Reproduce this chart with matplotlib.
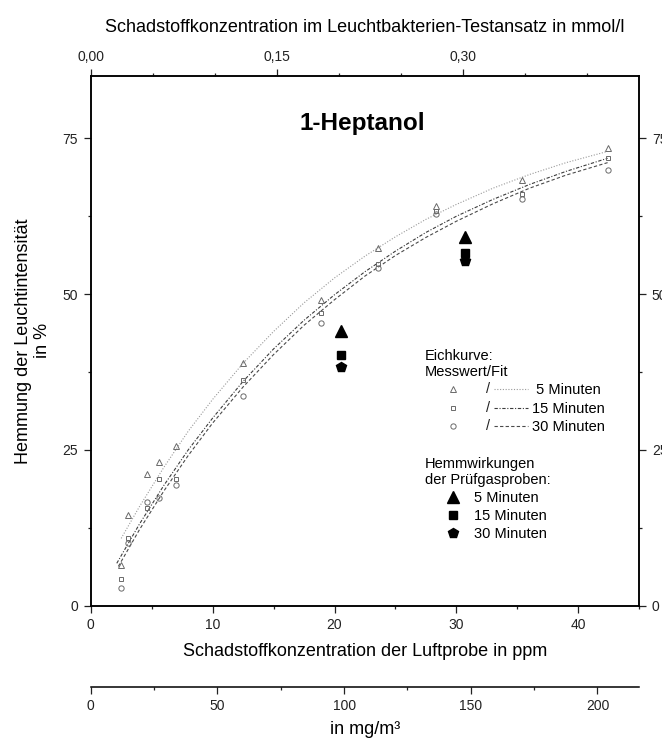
import matplotlib
matplotlib.use('Agg')
import matplotlib.pyplot as plt
from matplotlib.lines import Line2D
from matplotlib.text import Text
from matplotlib.legend_handler import HandlerBase
from matplotlib.ticker import MultipleLocator, FuncFormatter

plt.rcParams['font.family'] = ['Liberation Sans', 'DejaVu Sans']
plt.rcParams['axes.linewidth'] = 1.1

# Eichkurve: Messwerte (ppm, Hemmung in %)
ppm_cal = [2.46, 3.08, 4.64, 5.60, 6.97, 12.52, 18.87, 23.54, 28.30, 35.36, 42.46]
cal_5 = [6.6, 14.6, 21.1, 23.0, 25.6, 38.9, 49.0, 57.4, 64.1, 68.3, 73.4]
cal_15 = [4.3, 10.9, 15.7, 20.3, 20.3, 36.2, 46.9, 54.8, 63.4, 66.1, 71.8]
cal_30 = [2.9, 10.1, 16.6, 17.3, 19.4, 33.6, 45.4, 54.2, 62.8, 65.3, 69.9]

# Fitkurven
ppm_fit_5 = [2.5, 4, 6, 8, 10, 12.5, 15, 17.5, 20, 22.5, 25, 27.5, 30, 33, 36, 39, 42.4]
fit_5 = [10.8, 15.9, 22.2, 28.0, 33.1, 38.9, 44.0, 48.6, 52.6, 56.1, 59.2, 62.0, 64.4, 67.0, 69.2, 71.1, 72.9]
ppm_fit_15 = [2.14, 4, 6, 8, 10, 12.5, 15, 17.5, 20, 22.5, 25, 27.5, 30, 33, 36, 39, 42.4]
fit_15 = [6.8, 13.1, 19.3, 25.0, 30.1, 36.0, 41.2, 45.8, 49.9, 53.6, 56.9, 59.9, 62.5, 65.2, 67.6, 69.7, 71.8]
ppm_fit_30 = [2.27, 4, 6, 8, 10, 12.5, 15, 17.5, 20, 22.5, 25, 27.5, 30, 33, 36, 39, 42.4]
fit_30 = [6.3, 12.2, 18.4, 24.1, 29.3, 35.1, 40.3, 45.0, 49.1, 52.9, 56.2, 59.1, 61.7, 64.5, 67.0, 69.1, 71.1]

# Pruefgasproben
ppm_probe = [20.5, 30.7]
probe_5 = [44.1, 59.2]
probe_15 = [40.2, 56.6]
probe_30 = [38.3, 55.3]

minute_labels = [' 5 Minuten', '15 Minuten', '30 Minuten']

# Umrechnung der Achsen bei 45 ppm
ppm_max = 45
mmol_max = 0.442
mg_max = 216.5


class SlashHandler(HandlerBase):
    # Messwert-Symbol, "/" und Fit-Linie in einem Legendeneintrag
    def create_artists(self, legend, orig_handle, xdescent, ydescent,
                       width, height, fontsize, trans):
        mk, ln = orig_handle
        x0 = -xdescent
        y = height / 2 - ydescent
        dot = Line2D([x0 + 0.1 * width], [y])
        dot.update_from(mk)
        slash = Text(x0 + 0.52 * width, y, '/', ha='center', va='center',
                     fontsize=fontsize, color='#222222')
        seg = Line2D([x0 + 0.59 * width, x0 + width], [y, y])
        seg.update_from(ln)
        for a in (dot, slash, seg):
            a.set_transform(trans)
        return [dot, slash, seg]


fig = plt.figure(figsize=(6.62, 7.38), dpi=100)
ax = fig.add_axes([0.137, 0.1793, 0.8287, 0.7177])

l5, = ax.plot(ppm_fit_5, fit_5, ls=(0, (1, 1.5)), color='#9a9a9a', lw=0.8)
l15, = ax.plot(ppm_fit_15, fit_15, ls=(0, (3, 1.5, 1, 1.5)), color='#3c3c3c', lw=0.8)
l30, = ax.plot(ppm_fit_30, fit_30, ls=(0, (3, 2)), color='#4a4a4a', lw=0.8)

mk_style = dict(ls='none', mfc='none', mec='#6a6a6a', mew=0.7)
m5, = ax.plot(ppm_cal, cal_5, marker='^', ms=4, **mk_style)
m15, = ax.plot(ppm_cal, cal_15, marker='s', ms=3.3, **mk_style)
m30, = ax.plot(ppm_cal, cal_30, marker='o', ms=3.8, **mk_style)

p5, = ax.plot(ppm_probe, probe_5, ls='none', marker='^', ms=8, color='black')
p15, = ax.plot(ppm_probe, probe_15, ls='none', marker='s', ms=6.2, color='black')
p30, = ax.plot(ppm_probe, probe_30, ls='none', marker='p', ms=7.5, color='black')

ax.set_xlim(0, ppm_max)
ax.set_ylim(0, 85)
ax.set_xticks([0, 10, 20, 30, 40])
ax.xaxis.set_minor_locator(MultipleLocator(5))
ax.set_yticks([0, 25, 50, 75])
ax.yaxis.set_minor_locator(MultipleLocator(12.5))
ax.tick_params(which='both', direction='out', right=True, labelright=True,
               labelsize=10, width=0.9, colors='#222222')
ax.tick_params(which='major', length=5, pad=4)
ax.tick_params(which='minor', length=2.5)
ax.set_xlabel('Schadstoffkonzentration der Luftprobe in ppm', fontsize=13, labelpad=8)
ax.set_ylabel('Hemmung der Leuchtintensität\nin %', fontsize=13, labelpad=8.5,
              linespacing=1.1)

ax.text(22.3, 77.3, '1-Heptanol', fontsize=17.5, weight='bold', ha='center', va='center')

# Legende
ax.text(0.6094, 0.4846, 'Eichkurve:\nMesswert/Fit', transform=ax.transAxes,
        va='top', ha='left', fontsize=10.5, linespacing=1.2)
leg1 = ax.legend(handles=[(m5, l5), (m15, l15), (m30, l30)], labels=minute_labels,
                 handler_map={tuple: SlashHandler()}, loc='upper left',
                 bbox_to_anchor=(0.6458, 0.4199), frameon=False, borderpad=0,
                 borderaxespad=0, handlelength=5.7, handletextpad=0.3,
                 labelspacing=0.30, fontsize=10.5)
ax.add_artist(leg1)
ax.text(0.6094, 0.2807, 'Hemmwirkungen\nder Prüfgasproben:', transform=ax.transAxes,
        va='top', ha='left', fontsize=10.5, linespacing=1.2)
ax.legend(handles=[p5, p15, p30], labels=[s.strip() for s in minute_labels],
          loc='upper left', bbox_to_anchor=(0.6458, 0.2171), frameon=False,
          borderpad=0, borderaxespad=0, handlelength=1.1, handletextpad=0.9,
          labelspacing=0.30, fontsize=10.5, numpoints=1)

# obere Achse: mmol/l
ax_top = ax.twiny()
ax_top.set_xlim(0, mmol_max)
ax_top.set_xticks([0, 0.15, 0.30])
ax_top.xaxis.set_minor_locator(MultipleLocator(0.05))
ax_top.xaxis.set_major_formatter(FuncFormatter(lambda v, p: f'{v:.2f}'.replace('.', ',')))
ax_top.tick_params(which='both', direction='out', labelsize=10, width=0.9, colors='#222222')
ax_top.tick_params(which='major', length=5, pad=3.5)
ax_top.tick_params(which='minor', length=2.5)
ax_top.set_xlabel('Schadstoffkonzentration im Leuchtbakterien-Testansatz in mmol/l',
                  fontsize=13, labelpad=13)

# zweite untere Achse: mg/m3
ax_mg = ax.twiny()
ax_mg.set_xlim(0, mg_max)
ax_mg.xaxis.set_ticks_position('bottom')
ax_mg.xaxis.set_label_position('bottom')
for s in ['top', 'left', 'right']:
    ax_mg.spines[s].set_visible(False)
ax_mg.spines['bottom'].set_position(('outward', 58.3))
ax_mg.set_xticks([0, 50, 100, 150, 200])
ax_mg.xaxis.set_minor_locator(MultipleLocator(25))
ax_mg.tick_params(which='both', direction='out', labelsize=10, width=0.9, colors='#222222')
ax_mg.tick_params(which='major', length=5, pad=4)
ax_mg.tick_params(which='minor', length=2.5)
ax_mg.set_xlabel('in mg/m³', fontsize=13, labelpad=6)

fig.savefig('out.png', dpi=100)
